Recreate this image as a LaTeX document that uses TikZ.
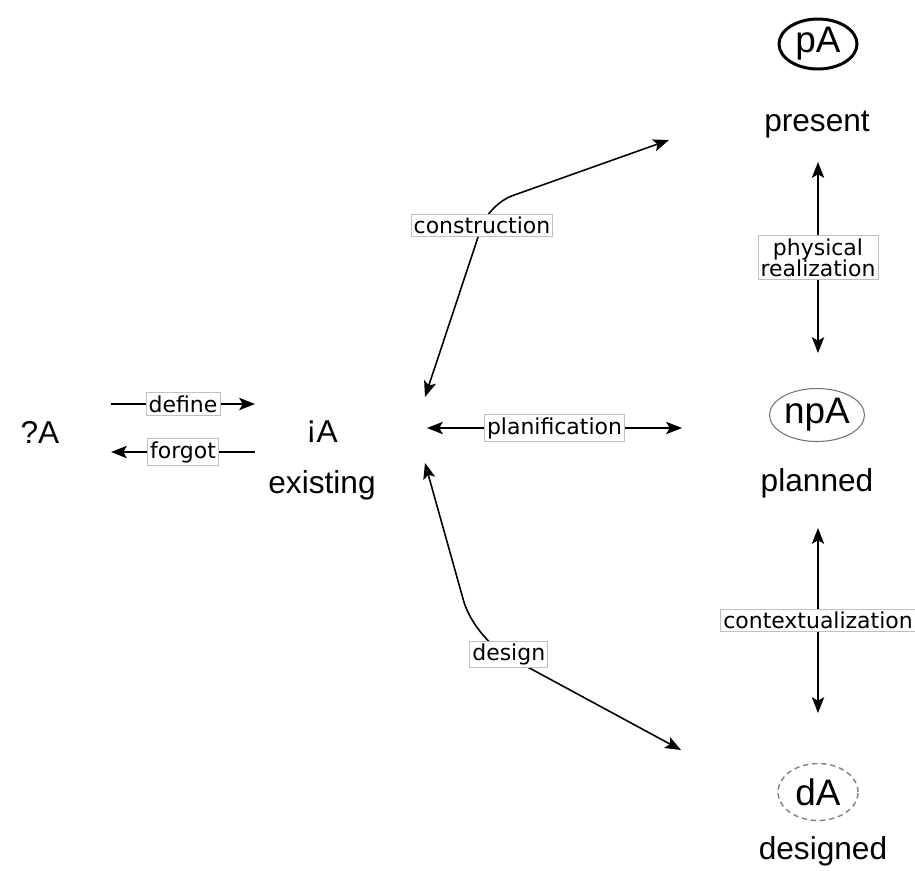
\documentclass[tikz,border=0pt]{standalone}
\usepackage{fontspec}
\setmainfont{Liberation Sans}
\newfontfamily\lblfont{DejaVu Sans}
\usetikzlibrary{arrows.meta,shapes.geometric}

\tikzset{
    state/.style={font=\fontsize{18}{20}\selectfont},
    form/.style={shape=ellipse, inner sep=0, font=\fontsize{21}{23}\selectfont},
    lbl/.style={draw=black!25, fill=white, line width=0.5pt, inner sep=1.5pt, sharp corners,
        font=\lblfont\fontsize{12.5}{14}\selectfont, align=center},
    link/.style={line width=0.9pt, {Stealth[length=9pt,width=7pt,inset=2pt]}-{Stealth[length=9pt,width=7pt,inset=2pt]}},
    oneway/.style={line width=0.9pt, -{Stealth[length=9pt,width=7pt,inset=2pt]}}
}

\begin{document}
\begin{tikzpicture}[x=0.02cm, y=-0.02cm]

    \useasboundingbox (0, 0) rectangle (915, 870);

    % Unknown and existing
    \node[state] (Q) at (40, 432) {?A};
    \node[state] (I) at (322, 432) {\raisebox{0.15em}{¡}A};
    \node[state] (Iname) at (322, 485) {existing};

    % Forms on the right
    \node[form, draw, line width=1.7pt, minimum width=1.56cm, minimum height=1.0cm]
        (P) at (818, 44) {pA};
    \node[state] (Pname) at (817, 125) {present};
    \node[form, draw=black!55, line width=0.6pt, minimum width=1.9cm, minimum height=1.06cm]
        (NP) at (817, 415) {npA};
    \node[state] (NPname) at (817, 483) {planned};
    \node[form, draw=black!50, line width=0.8pt, dash pattern=on 3pt off 2.2pt,
        minimum width=1.6cm, minimum height=1.14cm] (D) at (818, 792) {dA};
    \node[state] (Dname) at (823, 851) {designed};

    % Arrow ends
    \coordinate (defA) at (111, 404);
    \coordinate (defB) at (255, 404);
    \coordinate (forA) at (255, 452);
    \coordinate (forB) at (111, 452);
    \coordinate (conA) at (425, 397);
    \coordinate (conK) at (489, 204);
    \coordinate (conB) at (669, 140);
    \coordinate (plaA) at (427, 428);
    \coordinate (plaB) at (682, 428);
    \coordinate (desA) at (425, 463);
    \coordinate (desK) at (474, 638);
    \coordinate (desB) at (681, 750);
    \coordinate (phyA) at (818, 162);
    \coordinate (phyB) at (818, 353);
    \coordinate (ctxA) at (818, 528);
    \coordinate (ctxB) at (818, 713);

    % Lines
    \draw[oneway] (defA) -- node[lbl] {define} (defB);
    \draw[oneway] (forA) -- node[lbl] {forgot} (forB);

    \draw[link, rounded corners=14pt] (conA) -- node[lbl, pos=0.89] {construction} (conK) -- (conB);
    \draw[link] (plaA) -- node[lbl] {planification} (plaB);
    \draw[link, rounded corners=22pt] (desA) -- (desK) -- node[lbl, pos=0.1, xshift=8pt, yshift=-3pt] {design} (desB);

    \draw[link] (phyA) -- node[lbl] {physical\\[-2pt]realization} (phyB);
    \draw[link] (ctxA) -- node[lbl] {contextualization} (ctxB);

\end{tikzpicture}
\end{document}
